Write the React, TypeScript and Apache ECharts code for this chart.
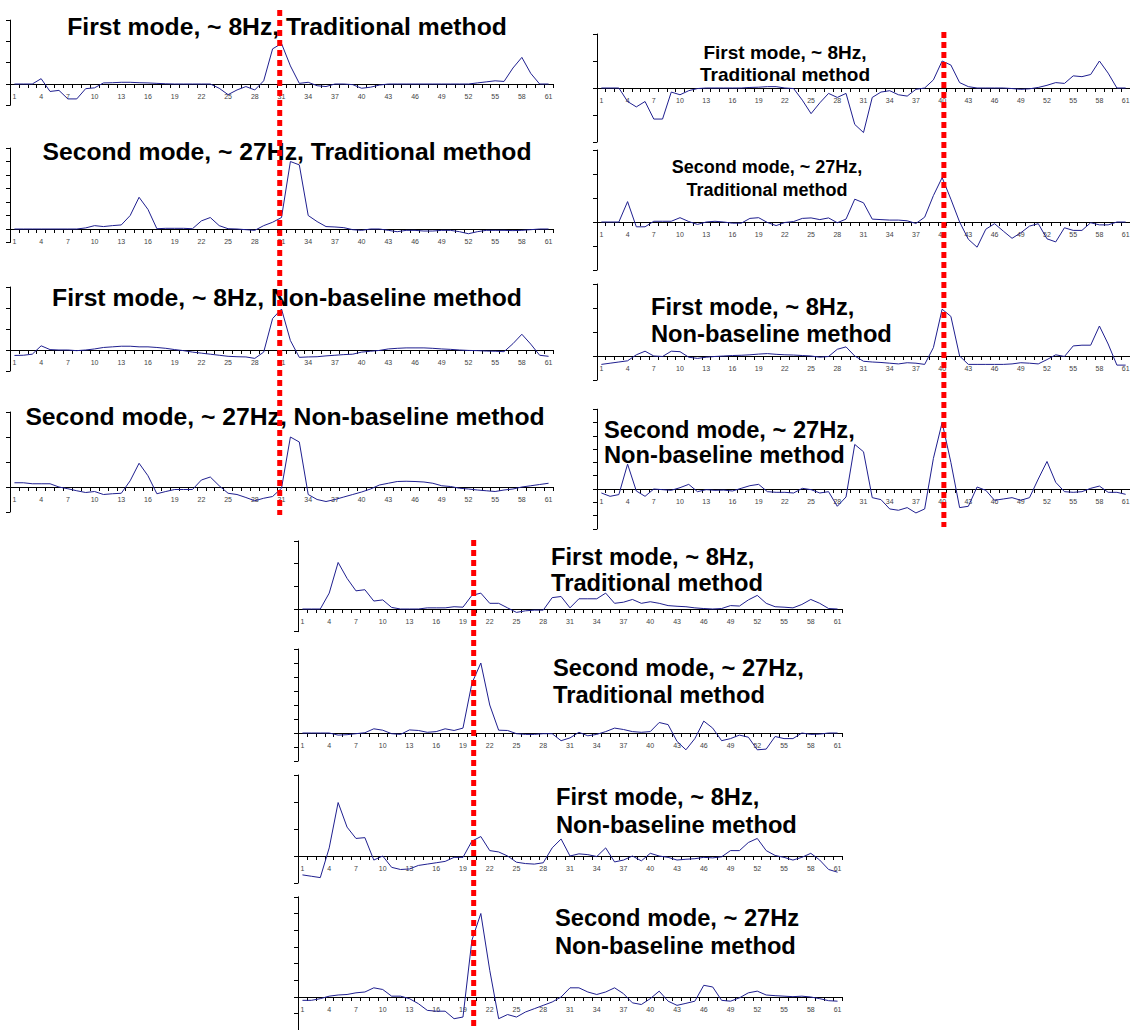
import React, { useEffect, useRef } from "react";
import * as echarts from "echarts";

// ---------- data ----------
const CATEGORIES: string[] = Array.from({ length: 61 }, (_, i) => String(i + 1));

const LEFT_FIRST_TRAD = [0, 0, 0, 0.25, -0.35, -0.3, -0.7, -0.7, -0.22, -0.18, 0.05, 0.06, 0.08, 0.08, 0.06, 0.05, 0.03, 0.01, 0, 0, 0, 0, 0, -0.2, -0.5, -0.28, -0.12, -0.28, 0.15, 1.65, 1.9, 0.85, 0.03, 0.08, -0.08, -0.12, 0, 0, -0.03, -0.2, -0.15, -0.05, 0, 0, 0, 0, 0, 0, 0, 0, 0, 0, 0.05, 0.1, 0.15, 0.12, 0.75, 1.25, 0.5, 0, 0];
const LEFT_SECOND_TRAD = [0, 0, 0, 0, 0, 0, 0, 0, 0.08, 0.25, 0.18, 0.25, 0.3, 1.0, 2.35, 1.45, 0.02, 0.05, 0.05, 0.05, 0.02, 0.6, 0.85, 0.25, 0.02, 0, -0.05, -0.1, 0.25, 0.5, 0.85, 5.0, 4.75, 1.0, 0.55, 0.18, 0.15, 0.1, -0.05, -0.1, 0, 0, -0.1, -0.2, -0.1, -0.1, -0.15, -0.15, -0.1, -0.1, -0.2, -0.35, -0.2, -0.1, -0.1, -0.1, -0.12, -0.1, -0.05, 0, 0];
const LEFT_FIRST_NONBASE = [-0.26, -0.25, -0.2, 0.2, 0.02, 0, 0, -0.03, 0, 0.05, 0.12, 0.15, 0.18, 0.18, 0.15, 0.15, 0.12, 0.08, 0.02, -0.03, -0.1, -0.15, -0.2, -0.25, -0.3, -0.32, -0.33, -0.4, -0.1, 1.5, 1.95, 0.45, -0.35, -0.33, -0.32, -0.28, -0.25, -0.22, -0.2, -0.1, -0.06, -0.02, 0.05, 0.08, 0.1, 0.1, 0.1, 0.08, 0.05, 0.03, 0, -0.02, -0.03, -0.05, -0.06, -0.08, 0.3, 0.75, 0.28, -0.25, -0.3];
const LEFT_SECOND_NONBASE = [0.17, 0.17, 0.13, 0.13, 0.13, 0, -0.07, -0.15, -0.22, -0.18, -0.3, -0.27, -0.25, 0.25, 0.95, 0.45, -0.27, -0.18, -0.1, -0.1, -0.1, 0.28, 0.4, 0.05, -0.25, -0.3, -0.42, -0.55, -0.45, -0.38, -0.05, 2.0, 1.8, -0.3, -0.5, -0.58, -0.5, -0.4, -0.3, -0.2, -0.08, 0.08, 0.15, 0.22, 0.23, 0.22, 0.2, 0.15, 0.05, 0.02, -0.05, -0.08, -0.12, -0.15, -0.18, -0.12, -0.08, 0, 0.05, 0.1, 0.15];

const RIGHT_FIRST_TRAD = [0, 0, 0, -0.5, -0.7, -0.5, -1.15, -1.15, -0.15, -0.25, -0.1, -0.02, 0, 0, 0, 0, 0, 0.02, 0.03, 0.05, 0.05, 0, -0.02, -0.45, -0.95, -0.55, -0.2, -0.35, -0.2, -1.35, -1.65, -0.35, -0.15, -0.1, -0.25, -0.3, -0.05, 0, 0.3, 1.0, 0.85, 0.2, 0.05, 0, 0, 0, 0, -0.02, -0.05, -0.03, 0.02, 0.1, 0.2, 0.17, 0.45, 0.42, 0.5, 1.0, 0.55, 0, 0];
const RIGHT_SECOND_TRAD = [0, 0, 0, 0.85, -0.2, -0.2, 0.03, 0.03, 0.03, 0.18, 0.02, -0.1, 0, 0.03, 0, -0.05, -0.05, 0.15, 0.18, -0.02, -0.15, -0.02, 0.02, 0.15, 0.17, 0.1, 0.17, -0.03, 0.12, 0.95, 0.8, 0.12, 0.1, 0.08, 0.08, 0.05, -0.06, 0.2, 1.1, 1.85, 0.95, 0, -0.72, -1.05, -0.3, -0.07, -0.38, -0.68, -0.45, -0.17, -0.07, -0.7, -0.83, -0.24, -0.35, -0.35, -0.03, -0.12, -0.12, 0, 0];
const RIGHT_FIRST_NONBASE = [-0.35, -0.3, -0.25, -0.2, 0.05, 0.2, 0, -0.02, 0.2, 0.18, -0.05, -0.1, -0.05, -0.02, 0, 0.02, 0.03, 0.05, 0.08, 0.1, 0.07, 0.05, 0.04, 0.02, 0, -0.05, -0.02, 0.28, 0.38, 0, -0.22, -0.25, -0.27, -0.3, -0.33, -0.28, -0.3, -0.35, 0.35, 1.95, 1.65, 0, -0.35, -0.35, -0.35, -0.35, -0.35, -0.33, -0.28, -0.3, -0.33, -0.15, 0.05, -0.02, 0.42, 0.45, 0.45, 1.25, 0.5, -0.38, -0.38];
const RIGHT_SECOND_NONBASE = [-0.3, -0.55, -0.42, 1.87, -0.15, -0.55, 0, -0.05, -0.1, 0.1, 0.35, -0.2, -0.05, -0.1, -0.08, -0.15, 0.05, 0.25, 0.35, -0.2, -0.25, -0.25, -0.3, 0.05, -0.05, -0.3, -0.2, -1.3, -0.6, 3.35, 2.8, -0.65, -0.8, -1.5, -1.6, -1.4, -1.8, -1.5, 2.3, 5.0, 2.0, -1.4, -1.3, 0.15, -0.1, -0.85, -0.75, -0.65, -0.85, -0.65, 0.75, 2.07, 0.5, -0.2, -0.25, -0.2, 0.05, 0.22, -0.25, -0.25, -0.4];

const BOTTOM_FIRST_TRAD = [0, 0, 0, 0.7, 2.05, 1.35, 0.8, 0.85, 0.35, 0.4, 0.07, 0, 0, 0, 0.05, 0.05, 0.05, 0.1, 0.08, 0.6, 0.7, 0.25, 0.25, 0.05, -0.15, -0.08, -0.05, -0.05, 0.5, 0.55, 0.05, 0.45, 0.45, 0.45, 0.7, 0.25, 0.3, 0.42, 0.25, 0.32, 0.25, 0.15, 0.12, 0.1, 0.05, 0.02, 0, 0.02, 0.15, 0.13, 0.4, 0.6, 0.25, 0.1, 0.08, 0.05, 0.2, 0.42, 0.25, 0.02, 0];
const BOTTOM_SECOND_TRAD = [0, 0, 0, 0, -0.15, -0.12, -0.05, 0.02, 0.3, 0.2, -0.05, -0.1, 0.22, 0.18, 0.05, 0.1, 0.3, 0.18, 0.35, 3.55, 5.0, 2.0, 0.2, 0.18, -0.05, -0.1, -0.1, -0.05, -0.05, -0.55, -0.35, 0.05, -0.2, -0.1, 0.1, 0.35, 0.25, 0.1, 0.05, 0.1, 0.75, 0.6, -0.6, -1.2, -0.4, 0.85, 0.35, -0.55, -0.4, -0.15, -0.3, -1.2, -1.15, -0.25, -0.4, -0.4, 0, -0.1, -0.08, 0, 0];
const BOTTOM_FIRST_NONBASE = [-0.7, -0.75, -0.8, 0.3, 1.98, 1.07, 0.65, 0.68, -0.15, 0, -0.42, -0.5, -0.48, -0.35, -0.3, -0.25, -0.2, -0.05, -0.05, 0.55, 0.72, 0.2, 0.15, 0, -0.23, -0.28, -0.3, -0.25, 0.3, 0.63, 0, 0.08, 0.05, -0.02, 0.3, -0.22, -0.15, 0, -0.18, 0.1, 0, -0.05, -0.15, -0.12, -0.1, -0.05, -0.07, -0.03, 0.2, 0.2, 0.5, 0.65, 0.2, 0.02, -0.05, -0.15, -0.05, 0.1, -0.15, -0.5, -0.6];
const BOTTOM_SECOND_NONBASE = [-0.2, -0.2, -0.1, 0.05, 0.12, 0.15, 0.25, 0.3, 0.55, 0.45, 0.05, 0.05, -0.1, -0.4, -0.8, -0.85, -0.85, -1.3, -1.2, 3.4, 5.0, 1.6, -1.3, -1.05, -1.2, -0.9, -0.7, -0.5, -0.3, 0, 0.55, 0.55, 0.3, 0.15, 0.3, 0.55, 0.2, -0.35, -0.45, -0.1, 0.35, -0.25, -0.5, -0.38, -0.25, 0.7, 0.6, -0.2, -0.25, -0.05, 0.25, 0.35, 0.12, 0.08, 0.05, 0.02, 0.05, 0, -0.1, -0.22, -0.25];

const TITLE_FIRST_TRAD = "First mode, ~ 8Hz, Traditional method";
const TITLE_SECOND_TRAD = "Second mode, ~ 27Hz, Traditional method";
const TITLE_FIRST_NONBASE = "First mode, ~ 8Hz, Non-baseline method";
const TITLE_SECOND_NONBASE = "Second mode, ~ 27Hz, Non-baseline method";
const TITLE_R_FIRST_TRAD = "First mode, ~ 8Hz,\nTraditional method";
const TITLE_R_SECOND_TRAD = "Second mode, ~ 27Hz,\nTraditional method";
const TITLE_R_FIRST_NONBASE = "First mode, ~ 8Hz,\nNon-baseline method";
const TITLE_R_SECOND_NONBASE = "Second mode, ~ 27Hz,\nNon-baseline method";
const TITLE_B_SECOND_NONBASE = "Second mode, ~ 27Hz\nNon-baseline method";

// red marker position (category value, 1-based) per column
const RED_MARK_AT = [30.8, 40.2, 20.2];

// ---------- layout ----------
const FONT = "'Liberation Sans', Arial, Helvetica, sans-serif";

const PANELS = [
  { data: LEFT_FIRST_TRAD, left: 10, width: 543, zero: 84, tick: 21.3, min: -1, max: 3 },
  { data: LEFT_SECOND_TRAD, left: 10, width: 543, zero: 229, tick: 13.5, min: -1, max: 6 },
  { data: LEFT_FIRST_NONBASE, left: 10, width: 543, zero: 350, tick: 21, min: -1, max: 3 },
  { data: LEFT_SECOND_NONBASE, left: 10, width: 543, zero: 487, tick: 25, min: -1, max: 3 },
  { data: RIGHT_FIRST_TRAD, left: 597, width: 533, zero: 88, tick: 27, min: -2, max: 2 },
  { data: RIGHT_SECOND_TRAD, left: 597, width: 533, zero: 222, tick: 24, min: -2, max: 3 },
  { data: RIGHT_FIRST_NONBASE, left: 597, width: 533, zero: 356, tick: 24, min: -1, max: 3 },
  { data: RIGHT_SECOND_NONBASE, left: 597, width: 533, zero: 489, tick: 13.3, min: -3, max: 6 },
  { data: BOTTOM_FIRST_TRAD, left: 298, width: 544, zero: 609, tick: 22.7, min: -1, max: 3 },
  { data: BOTTOM_SECOND_TRAD, left: 298, width: 544, zero: 733, tick: 14, min: -2, max: 6 },
  { data: BOTTOM_FIRST_NONBASE, left: 298, width: 544, zero: 856, tick: 27, min: -1, max: 3 },
  { data: BOTTOM_SECOND_NONBASE, left: 298, width: 544, zero: 997, tick: 16.7, min: -2, max: 6 },
];

const TITLES = [
  { text: TITLE_FIRST_TRAD, x: 287, y: 26, size: 24.7, align: "center", lh: 26 },
  { text: TITLE_SECOND_TRAD, x: 287, y: 151, size: 24.7, align: "center", lh: 26 },
  { text: TITLE_FIRST_NONBASE, x: 287, y: 297, size: 24.7, align: "center", lh: 26 },
  { text: TITLE_SECOND_NONBASE, x: 285, y: 416, size: 24.7, align: "center", lh: 26 },
  { text: TITLE_R_FIRST_TRAD, x: 785, y: 63, size: 19, align: "center", lh: 22 },
  { text: TITLE_R_SECOND_TRAD, x: 767, y: 178, size: 18, align: "center", lh: 23 },
  { text: TITLE_R_FIRST_NONBASE, x: 651, y: 320, size: 23.7, align: "left", lh: 27 },
  { text: TITLE_R_SECOND_NONBASE, x: 604, y: 442, size: 23.7, align: "left", lh: 25 },
  { text: TITLE_R_FIRST_TRAD, x: 551, y: 570, size: 23.7, align: "left", lh: 26 },
  { text: TITLE_R_SECOND_TRAD, x: 553, y: 681, size: 23.7, align: "left", lh: 27 },
  { text: TITLE_R_FIRST_NONBASE, x: 556, y: 811, size: 23.7, align: "left", lh: 28 },
  { text: TITLE_B_SECOND_NONBASE, x: 555, y: 932, size: 23.7, align: "left", lh: 28 },
];

const RED_LINES = [
  { grid: 0, y1: 10, y2: 515 },
  { grid: 4, y1: 32, y2: 527 },
  { grid: 8, y1: 540, y2: 1030 },
];

export default function App() {
  const ref = useRef<HTMLDivElement>(null);

  useEffect(() => {
    if (!ref.current) return;
    const chart = echarts.init(ref.current, null, { renderer: "svg" });

    const grid = PANELS.map((p) => ({
      left: p.left,
      top: p.zero - p.max * p.tick,
      width: p.width,
      height: (p.max - p.min) * p.tick,
      containLabel: false,
      outerBoundsMode: "none",
    }));

    const xAxis = PANELS.map((p, i) => ({
      type: "category",
      gridIndex: i,
      data: CATEGORIES,
      boundaryGap: true,
      axisLine: { show: true, onZero: true, lineStyle: { color: "#000", width: 1 } },
      axisTick: { show: true, interval: 0, length: 4, inside: false, lineStyle: { color: "#000", width: 1 } },
      axisLabel: {
        show: true,
        interval: 2,
        fontSize: 7,
        color: "#444",
        // labels sit just below the zero line, not at the grid bottom
        margin: 9 + p.min * p.tick,
        fontFamily: FONT,
      },
      splitLine: { show: false },
    }));

    const yAxis = PANELS.map((p, i) => ({
      type: "value",
      gridIndex: i,
      min: p.min,
      max: p.max,
      interval: 1,
      axisLine: { show: true, onZero: false, lineStyle: { color: "#000", width: 1 } },
      axisTick: { show: true, length: 4, lineStyle: { color: "#000", width: 1 } },
      axisLabel: { show: false },
      splitLine: { show: false },
    }));

    const series = PANELS.map((p, i) => ({
      type: "line",
      xAxisIndex: i,
      yAxisIndex: i,
      data: p.data,
      symbol: "none",
      silent: true,
      lineStyle: { color: "#1f1f8f", width: 1 },
      z: 3,
    }));

    const titleEls = TITLES.map((t) => ({
      type: "text",
      x: t.x,
      y: t.y,
      z: 50,
      silent: true,
      style: {
        text: t.text,
        fontSize: t.size,
        fontWeight: "bold",
        fontFamily: FONT,
        fill: "#000",
        align: t.align,
        verticalAlign: "middle",
        lineHeight: t.lh,
      },
    }));

    chart.setOption({
      animation: false,
      backgroundColor: "#fff",
      grid,
      xAxis,
      yAxis,
      series,
      graphic: titleEls,
    });

    const redEls = RED_LINES.map((r, k) => {
      const at = RED_MARK_AT[k];
      const lo = Math.floor(at);
      const frac = at - lo;
      const a = chart.convertToPixel({ gridIndex: r.grid }, [lo - 1, 0]) as number[];
      const b = chart.convertToPixel({ gridIndex: r.grid }, [lo, 0]) as number[];
      const x = a[0] + frac * (b[0] - a[0]);
      return {
        type: "line",
        z: 100,
        silent: true,
        shape: { x1: x, y1: r.y1, x2: x, y2: r.y2 },
        style: { stroke: "#ff0000", lineWidth: 5, lineDash: [6, 4] },
      };
    });

    chart.setOption({ graphic: [...titleEls, ...redEls] });

    return () => chart.dispose();
  }, []);

  return (
    <div
      ref={ref}
      style={{ position: "absolute", left: 0, top: 0, width: 1130, height: 1030, background: "#fff" }}
    />
  );
}
